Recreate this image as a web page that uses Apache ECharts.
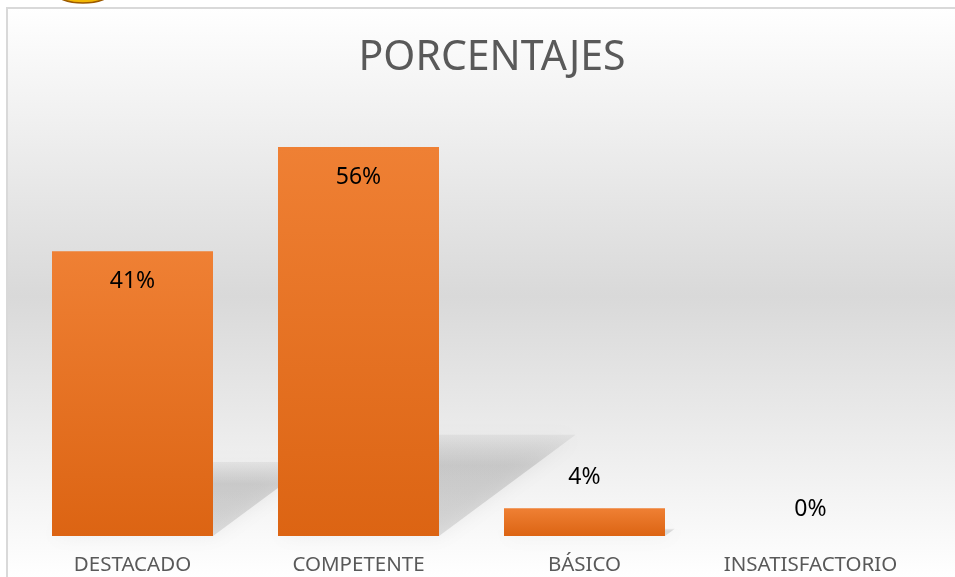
<!DOCTYPE html>
<html>
<head>
<meta charset="utf-8">
<script src="https://cdn.jsdelivr.net/npm/echarts@6/dist/echarts.min.js"></script>
<style>
  html, body { margin: 0; padding: 0; background: #ffffff; }
  #chart { width: 955px; height: 577px; }
</style>
</head>
<body>
<div id="chart"></div>
<script>
/* 类别 */
const categories = ["DESTACADO", "COMPETENTE", "BÁSICO", "INSATISFACTORIO"];

/* 百分比 */
const percents = [41, 56, 4, 0];

const chart = echarts.init(document.getElementById("chart"));

/* 柱子背后的投影 */
function renderShadow(params, api){

    const base = api.coord([api.value(0), 0]);
    const top = api.coord([api.value(0), api.value(1)]);
    const bw = api.size([1, 0])[0] * 0.713;

    const h = (base[1] - top[1]) * 0.26;
    const shift = h * 1.35;
    const x0 = base[0] - bw / 2;
    const x1 = base[0] + bw / 2;

    if(h <= 0) return;

    return {
        type: "polygon",
        shape: {
            points: [
                [x0, base[1]],
                [x1, base[1]],
                [x1 + shift, base[1] - h],
                [x0 + shift, base[1] - h]
            ]
        },
        style: {
            fill: new echarts.graphic.LinearGradient(0, 0, 0, 1, [
                { offset: 0, color: "rgba(130,130,130,0.10)" },
                { offset: 0.3, color: "rgba(130,130,130,0.28)" },
                { offset: 1, color: "rgba(130,130,130,0.22)" }
            ]),
            shadowBlur: 18,
            shadowColor: "rgba(130,130,130,0.45)"
        }
    };
}

chart.setOption({

    animation: false,

    graphic: [
        {
            type: "rect",
            z: -10,
            shape: { x: 7, y: 8, width: 970, height: 600 },
            style: {
                fill: new echarts.graphic.LinearGradient(0, 0, 0, 1, [
                    { offset: 0, color: "#ffffff" },
                    { offset: 0.48, color: "#d9d9d9" },
                    { offset: 0.95, color: "#ffffff" }
                ]),
                stroke: "#d9d9d9",
                lineWidth: 2
            }
        },
        {
            type: "ellipse",
            z: -5,
            shape: { cx: 83, cy: -8, rx: 28, ry: 11 },
            style: { fill: "#f2b705", stroke: "#9c5a00", lineWidth: 1.5 }
        }
    ],

    title: {
        text: "PORCENTAJES",
        left: 487,
        top: 33,
        textAlign: "center",
        textStyle: {
            fontFamily: "Noto Sans",
            fontSize: 41,
            fontWeight: "normal",
            color: "#595959"
        }
    },

    grid: {
        left: 19.5,
        right: 31.5,
        top: 119.2,
        bottom: 41
    },

    xAxis: {
        type: "category",
        data: categories,
        axisLine: { show: false },
        axisTick: { show: false },
        axisLabel: {
            interval: 0,
            margin: 19,
            fontFamily: "Noto Sans",
            fontSize: 20.5,
            color: "#595959"
        }
    },

    yAxis: {
        type: "value",
        min: 0,
        max: 60,
        show: false
    },

    series: [
        {
            type: "custom",
            renderItem: renderShadow,
            z: 1,
            silent: true,
            data: percents.map((v, i) => [i, v])
        },
        {
            type: "bar",
            z: 2,
            barWidth: 161,
            data: percents.map(v => {

                return {
                    value: v,
                    label: {
                        position: v > 10 ? "insideTop" : "top",
                        distance: v === 0 ? 15 : 19
                    }
                };
            }),
            itemStyle: {
                color: new echarts.graphic.LinearGradient(0, 0, 0, 1, [
                    { offset: 0, color: "#ef8034" },
                    { offset: 1, color: "#dc6413" }
                ])
            },
            label: {
                show: true,
                distance: 19,
                formatter: "{c}%",
                fontFamily: "Noto Sans",
                fontSize: 23,
                color: "#000000"
            }
        }
    ]
});
</script>
</body>
</html>
